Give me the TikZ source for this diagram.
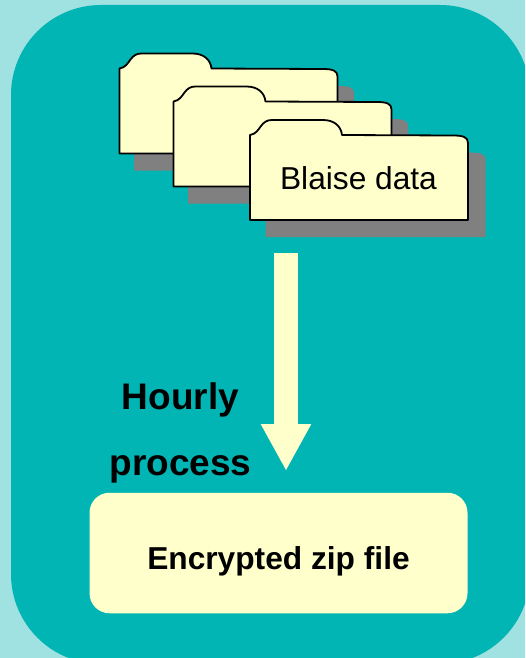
\documentclass[tikz,border=0pt]{standalone}
\usepackage{fontspec}
\setmainfont{Liberation Sans}
\usetikzlibrary{arrows.meta}
\definecolor{paleteal}{HTML}{A0E1E1}
\definecolor{teal}{HTML}{00B5B3}
\definecolor{cream}{HTML}{FFFFCC}
\tikzset{
	folder outline/.pic={
		\path[pic actions]
		(0,0) -- (0,-85) .. controls (6,-86) and (8,-90) .. (11,-94)
		.. controls (14,-98) and (17,-100) .. (22,-100)
		-- (73,-100) .. controls (84,-100) and (91,-94) .. (92,-85)
		-- (203,-84.5) .. controls (213,-84.5) and (218,-83) .. (218,-77)
		-- (218,0) -- cycle;
	}
}
\begin{document}
\begin{tikzpicture}[x=1pt,y=-1pt,thick,
		back/.style={fill=paleteal,draw=none},
		panel/.style={fill=teal,draw=none,rounded corners=90pt},
		shade/.style={fill=gray,draw=none,xscale=1.01},
		sheet/.style={fill=cream,draw=black,line width=1.8pt,line join=round},
		zipbox/.style={fill=cream,draw=none,rounded corners=20pt,minimum width=378pt,minimum height=120.5pt},
		flow/.style={cream,line width=24pt,-{Triangle[length=47pt,width=47pt]}},
		label/.style={font=\fontsize{31.7}{38}\selectfont,inner sep=0pt}]
		\useasboundingbox (0,0) rectangle (525,658);
		\fill[back] (0,0) rectangle (525,658);
		\begin{scope}
		\clip (0,0) rectangle (525,658);
		\fill[panel] (11,5) rectangle (530,664);
		\end{scope}
		% folders, back to front
		\pic[shade] at (134,170.5) {folder outline};
		\pic[sheet] at (119.5,153.5) {folder outline};
		\pic[shade] at (188,203.5) {folder outline};
		\pic[sheet] at (173.5,186.5) {folder outline};
		\pic[shade] at (265.5,237) {folder outline};
		\pic[sheet] at (250,220) {folder outline};
		\node[label] (blaise) at (358.5,178.5) {Blaise data};
		\node[zipbox,inner sep=0pt] (zip) at (278.5,553) {};
		\node[label,font=\fontsize{31.7}{38}\selectfont\bfseries] (ziptext) at (278.5,561) {Encrypted zip file};
		\node[align=center,inner sep=0pt,font=\fontsize{37}{66}\selectfont\bfseries] (hourly) at (180.5,433) {Hourly\\process};
		\coordinate (flowstart) at (286,253);
		\coordinate (flowend) at (286,471);
		\draw[flow] (flowstart) -- (flowend);
		\end{tikzpicture}
\end{document}
